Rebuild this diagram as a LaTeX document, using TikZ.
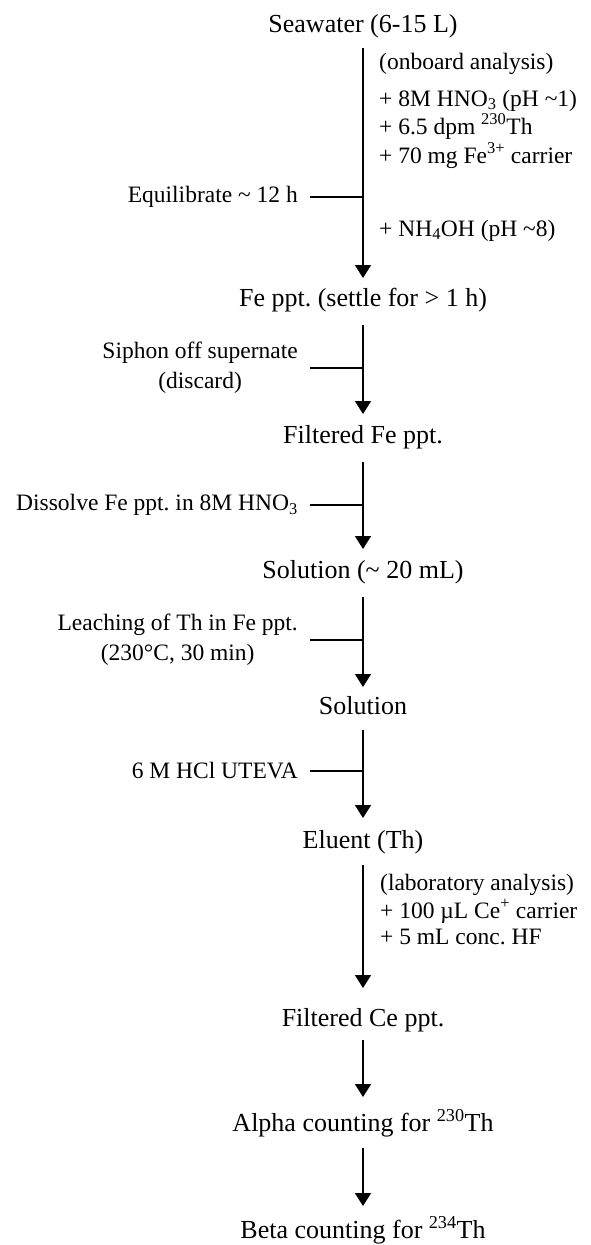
\documentclass[tikz,border=0pt]{standalone}
\usepackage{fontspec}
\setmainfont{Liberation Serif}
\usetikzlibrary{arrows.meta,calc}
\frenchspacing
\begin{document}
\begin{tikzpicture}[x=1pt,y=-1pt,
  main/.style={font=\fontsize{26}{30}\selectfont, inner sep=0pt, anchor=base},
  side/.style={font=\fontsize{23.5}{30}\selectfont, inner sep=0pt, anchor=base west},
  lside/.style={font=\fontsize{23.5}{30}\selectfont, inner ysep=0pt, inner xsep=12pt, anchor=east, align=center},
  arr/.style={line width=1.6pt, -{Triangle[width=16pt,length=13pt]}},
  ln/.style={line width=1.6pt}]
\useasboundingbox (0,0) rectangle (590,1245);
% main steps
\node[main] (sea) at (363,32) {Seawater (6-15 L)};
\node[main] (fe) at (363,306) {Fe ppt. (settle for > 1 h)};
\node[main] (ffe) at (363,443) {Filtered Fe ppt.};
\node[main] (sol) at (363,578) {Solution (\textasciitilde{} 20 mL)};
\node[main] (sol2) at (363,714) {Solution};
\node[main] (elu) at (363,848) {Eluent (Th)};
\node[main] (fce) at (363,1026) {Filtered Ce ppt.};
\node[main] (alpha) at (363,1131) {Alpha counting for \textsuperscript{230}Th};
\node[main] (beta) at (363,1238) {Beta counting for \textsuperscript{234}Th};
% right side notes
\node[side] (onb) at (379,69) {(onboard analysis)};
\node[side] (hno) at (379,106) {+ 8M HNO\textsubscript{3} (pH \textasciitilde1)};
\node[side] (th) at (379,134) {+ 6.5 dpm \textsuperscript{230}Th};
\node[side] (fe3) at (379,163) {+ 70 mg Fe\textsuperscript{3+} carrier};
\node[side] (nh) at (379,236) {+ NH\textsubscript{4}OH (pH \textasciitilde8)};
\node[side] (lab) at (380,890) {(laboratory analysis)};
\node[side] (ce) at (380,918) {+ 100 µL Ce\textsuperscript{+} carrier};
\node[side] (hf) at (380,944) {+ 5 mL conc. HF};
% left side notes
\node[lside] (eq) at (310,197) {Equilibrate \textasciitilde{} 12 h};
\node[lside] (siph) at (310,368) {Siphon off supernate\\(discard)};
\node[lside] (diss) at (310,505) {Dissolve Fe ppt. in 8M HNO\textsubscript{3}};
\node[lside] (leach) at (310,640) {Leaching of Th in Fe ppt.\\(230°C, 30 min)};
\node[lside] (ute) at (310,771) {6 M HCl UTEVA};
% arrows
\draw[arr] ($(sea.base)+(0,16)$) -- ($(fe.base)+(0,-28)$);
\draw[arr] ($(fe.base)+(0,19)$) -- ($(ffe.base)+(0,-29)$);
\draw[arr] ($(ffe.base)+(0,19)$) -- ($(sol.base)+(0,-29)$);
\draw[arr] ($(sol.base)+(0,19)$) -- ($(sol2.base)+(0,-27)$);
\draw[arr] ($(sol2.base)+(0,16)$) -- ($(elu.base)+(0,-30)$);
\draw[arr] ($(elu.base)+(0,17)$) -- ($(fce.base)+(0,-38)$);
\draw[arr] ($(fce.base)+(0,14)$) -- ($(alpha.base)+(0,-34)$);
\draw[arr] ($(alpha.base)+(0,17)$) -- ($(beta.base)+(0,-32)$);
% branches
\draw[ln] (eq.east) -- (eq.east -| sea.base);
\draw[ln] (siph.east) -- (siph.east -| sea.base);
\draw[ln] (diss.east) -- (diss.east -| sea.base);
\draw[ln] (leach.east) -- (leach.east -| sea.base);
\draw[ln] (ute.east) -- (ute.east -| sea.base);
\end{tikzpicture}
\end{document}
